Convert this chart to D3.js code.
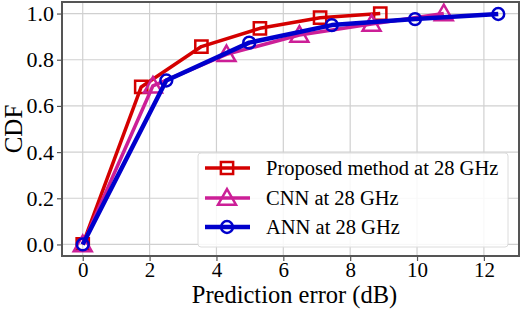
<!DOCTYPE html>
<html>
<head>
<meta charset="utf-8">
<script src="https://cdn.jsdelivr.net/npm/d3@7"></script>
<style>
  body { margin: 0; background: #fff; }
  svg text { font-family: "Liberation Serif", "DejaVu Serif", serif; fill: #000; }
</style>
</head>
<body>
<script>
//chart size
var w = 520, h = 312;
var margin = {left: 62, right: 1, top: 2, bottom: 56};

//data
var proposedX = [0, 1.75, 3.55, 5.3, 7.1, 8.9];
var proposedY = [0, 0.682, 0.857, 0.936, 0.982, 1.0];
var cnnX = [0, 2.1, 4.3, 6.48, 8.64, 10.8];
var cnnY = [0, 0.687, 0.823, 0.907, 0.955, 1.0];
var annX = [0, 2.5, 4.98, 7.45, 9.94, 12.43];
var annY = [0, 0.71, 0.874, 0.95, 0.976, 0.998];

var xTicks = [0, 2, 4, 6, 8, 10, 12];
var yTicks = [0, 0.2, 0.4, 0.6, 0.8, 1.0];

var seriesNames = ["Proposed method at 28 GHz", "CNN at 28 GHz", "ANN at 28 GHz"];
var seriesColors = ["#d40000", "#cc1f97", "#0000cc"];
var seriesMarkers = ["square", "triangle", "circle"];
var seriesWidths = [3.5, 3.5, 4.5];

var series = [
    {name: seriesNames[0], xs: proposedX, ys: proposedY},
    {name: seriesNames[1], xs: cnnX, ys: cnnY},
    {name: seriesNames[2], xs: annX, ys: annY}
];

var serif = "'Liberation Serif', 'DejaVu Serif', serif";

window.onload = function(){

    var svg = d3.select("body").append("svg")
        .attr("width", w)
        .attr("height", h)
        .attr("font-family", serif);

    var x = d3.scaleLinear().domain([-0.62, 13.05]).range([margin.left, w - margin.right]);
    var y = d3.scaleLinear().domain([-0.05, 1.05]).range([h - margin.bottom, margin.top]);

    //grid lines
    var grid = svg.append("g").attr("class", "grid");
    grid.selectAll("line.gx").data(xTicks).enter().append("line")
        .attr("x1", function(d){ return x(d); })
        .attr("x2", function(d){ return x(d); })
        .attr("y1", y.range()[0]).attr("y2", y.range()[1])
        .style("stroke", "#d0d0d0").style("stroke-width", 1.2);
    grid.selectAll("line.gy").data(yTicks).enter().append("line")
        .attr("y1", function(d){ return y(d); })
        .attr("y2", function(d){ return y(d); })
        .attr("x1", x.range()[0]).attr("x2", x.range()[1])
        .style("stroke", "#d0d0d0").style("stroke-width", 1.2);

    //axes
    var xAxis = svg.append("g")
        .attr("transform", "translate(0," + (h - margin.bottom) + ")")
        .call(d3.axisBottom(x).tickValues(xTicks).tickFormat(d3.format("d")).tickSize(5).tickPadding(1));
    var yAxis = svg.append("g")
        .attr("transform", "translate(" + margin.left + ",0)")
        .call(d3.axisLeft(y).tickValues(yTicks).tickFormat(d3.format(".1f")).tickSize(5).tickPadding(3));
    [xAxis, yAxis].forEach(function(a){
        a.attr("font-family", serif).attr("font-size", 22);
        a.select(".domain").remove();
        a.selectAll(".tick line").style("stroke", "#555").style("stroke-width", 1.2);
        a.selectAll("text").style("font-family", serif).style("font-size", "22px");
    });
    xAxis.selectAll("text").style("font-size", "21px");

    //series lines and markers
    var line = d3.line()
        .x(function(d){ return x(d[0]); })
        .y(function(d){ return y(d[1]); });

    var symbolTypes = {square: d3.symbolSquare, triangle: d3.symbolTriangle, circle: d3.symbolCircle};
    var symbolSizes = {square: 150, triangle: 140, circle: 110};

    var plot = svg.append("g");

    function drawMarker(g, kind, color, cx, cy){
        var sym = d3.symbol().type(symbolTypes[kind]).size(symbolSizes[kind]);
        var dy = kind === "triangle" ? 1.5 : 0;
        g.append("path")
            .attr("d", sym())
            .attr("transform", "translate(" + cx + "," + (cy + dy) + ")")
            .style("fill", "none")
            .style("stroke", color)
            .style("stroke-width", 2.5);
    }

    series.forEach(function(s, i){
        var pts = s.xs.map(function(v, j){ return [v, s.ys[j]]; });
        var g = plot.append("g");
        g.append("path")
            .datum(pts)
            .attr("d", line)
            .style("fill", "none")
            .style("stroke", seriesColors[i])
            .style("stroke-width", seriesWidths[i])
            .style("stroke-linejoin", "round");
        pts.forEach(function(p){
            drawMarker(g, seriesMarkers[i], seriesColors[i], x(p[0]), y(p[1]));
        });
    });

    //frame
    svg.append("rect")
        .attr("x", margin.left).attr("y", margin.top)
        .attr("width", w - margin.right - margin.left)
        .attr("height", h - margin.bottom - margin.top)
        .style("fill", "none")
        .style("stroke", "#555")
        .style("stroke-width", 2);

    //axis labels
    svg.append("text")
        .attr("x", (margin.left + w - margin.right) / 2 + 4)
        .attr("y", 303)
        .attr("text-anchor", "middle")
        .style("font-size", "24.5px")
        .text("Prediction error (dB)");
    svg.append("text")
        .attr("transform", "translate(22," + ((margin.top + h - margin.bottom) / 2) + ") rotate(-90)")
        .attr("text-anchor", "middle")
        .style("font-size", "25px")
        .text("CDF");

    //legend
    var legend = svg.append("g");
    legend.append("rect")
        .attr("x", 198).attr("y", 153)
        .attr("width", 310).attr("height", 94)
        .attr("rx", 3)
        .style("fill", "rgba(255,255,255,0.85)")
        .style("stroke", "#dcdcdc")
        .style("stroke-width", 1);
    var rowY = [168, 198, 227];
    series.forEach(function(s, i){
        var ry = rowY[i];
        legend.append("line")
            .attr("x1", 205).attr("x2", 250)
            .attr("y1", ry).attr("y2", ry)
            .style("stroke", seriesColors[i])
            .style("stroke-width", seriesWidths[i]);
        drawMarker(legend, seriesMarkers[i], seriesColors[i], 227, ry);
        legend.append("text")
            .attr("x", 266).attr("y", ry + 7)
            .style("font-size", "20.5px")
            .text(s.name);
    });
};
</script>
</body>
</html>
